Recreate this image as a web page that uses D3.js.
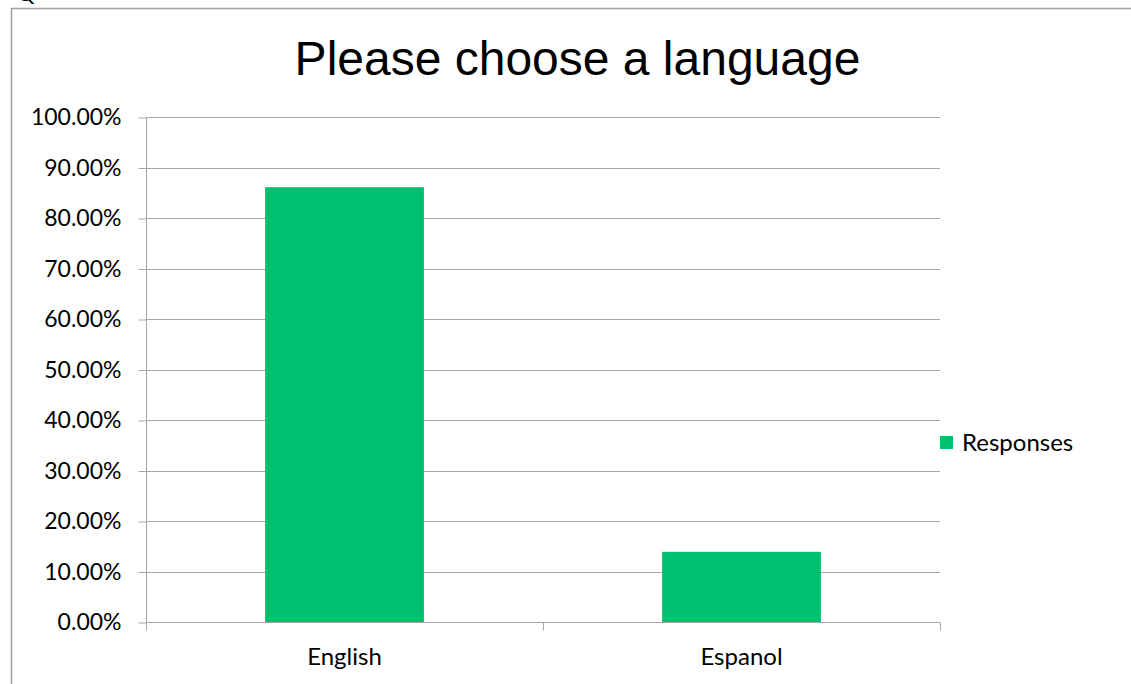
<!DOCTYPE html>
<html>
<head>
<meta charset="utf-8">
<script src="https://cdn.jsdelivr.net/npm/d3@7"></script>
<style>
html,body{margin:0;padding:0;background:#fff;}
svg{display:block;}
</style>
</head>
<body>
<svg id="chart" width="1131" height="684"></svg>
<script>
const categories = ["English", "Espanol"];
const responses = [0.861, 0.139];
const yTicks = [0, 0.1, 0.2, 0.3, 0.4, 0.5, 0.6, 0.7, 0.8, 0.9, 1.0];
const title = "Please choose a language";
const seriesName = "Responses";

const svg = d3.select("#chart");
const W = 1131, H = 684;
const plot = {left: 146, right: 940, top: 117, bottom: 622};
const barColor = "#00bf6f";
const gridColor = "#a6a6a6";
const labelFont = "Lato, 'Open Sans', sans-serif";

// partial question text at very top (cut off in the original)
svg.append("text").attr("x", 17).attr("y", 1)
  .attr("font-family", labelFont).attr("font-size", 22).attr("fill", "#000")
  .text("Q");

// chart border
svg.append("rect").attr("x", 11.5).attr("y", 8.5).attr("width", W + 10).attr("height", H + 10)
  .attr("fill", "#fff").attr("stroke", "#a0a0a0").attr("stroke-width", 1.5);

const x = d3.scaleBand().domain(categories).range([plot.left, plot.right])
  .paddingInner(0.6).paddingOuter(0.3);
const y = d3.scaleLinear().domain([0, 1]).range([plot.bottom, plot.top]);

// gridlines
svg.append("g").selectAll("line").data(yTicks).join("line")
  .attr("x1", plot.left).attr("x2", plot.right)
  .attr("y1", d => Math.round(y(d)) + 0.5).attr("y2", d => Math.round(y(d)) + 0.5)
  .attr("stroke", gridColor).attr("stroke-width", 1);

// y axis
const yAxis = d3.axisLeft(y).tickValues(yTicks).tickFormat(d3.format(".2%")).tickSize(8).tickPadding(17);
const gy = svg.append("g").attr("transform", `translate(${plot.left + 0.5},0.5)`).call(yAxis);
gy.select(".domain").attr("stroke", gridColor).attr("d", `M0,${plot.top}V${plot.bottom}`);
gy.selectAll(".tick line").attr("stroke", gridColor);
gy.selectAll(".tick text").attr("font-family", labelFont).attr("font-size", 23).attr("fill", "#000");

// bars
svg.append("g").selectAll("rect").data(categories).join("rect")
  .attr("x", d => x(d)).attr("width", x.bandwidth())
  .attr("y", (d, i) => y(responses[i])).attr("height", (d, i) => y(0) - y(responses[i]))
  .attr("fill", barColor);

// x axis
const xAxis = d3.axisBottom(x).tickSize(0).tickPadding(25);
const gx = svg.append("g").attr("transform", `translate(0,${Math.round(y(0)) + 0.5})`).call(xAxis);
gx.select(".domain").attr("stroke", gridColor).attr("d", `M${plot.left},0H${plot.right}`);
gx.selectAll(".tick text").attr("font-family", labelFont).attr("font-size", 24).attr("fill", "#000");
// category boundary ticks
const bounds = [plot.left, plot.left + x.step(), plot.right];
gx.append("g").selectAll("line").data(bounds).join("line")
  .attr("x1", d => Math.round(d) + 0.5).attr("x2", d => Math.round(d) + 0.5)
  .attr("y1", 0).attr("y2", 8).attr("stroke", gridColor);

// title
svg.append("text").attr("x", (297 + 858) / 2).attr("y", 75).attr("text-anchor", "middle")
  .attr("font-family", "'Liberation Sans', Arial, sans-serif").attr("font-size", 48).attr("fill", "#000")
  .text(title);

// legend
const lg = svg.append("g").attr("transform", "translate(940,436)");
lg.append("rect").attr("width", 13).attr("height", 13).attr("fill", barColor);
lg.append("text").attr("x", 22).attr("y", 15).attr("font-family", labelFont).attr("font-size", 24)
  .attr("fill", "#000").text(seriesName);
</script>
</body>
</html>
